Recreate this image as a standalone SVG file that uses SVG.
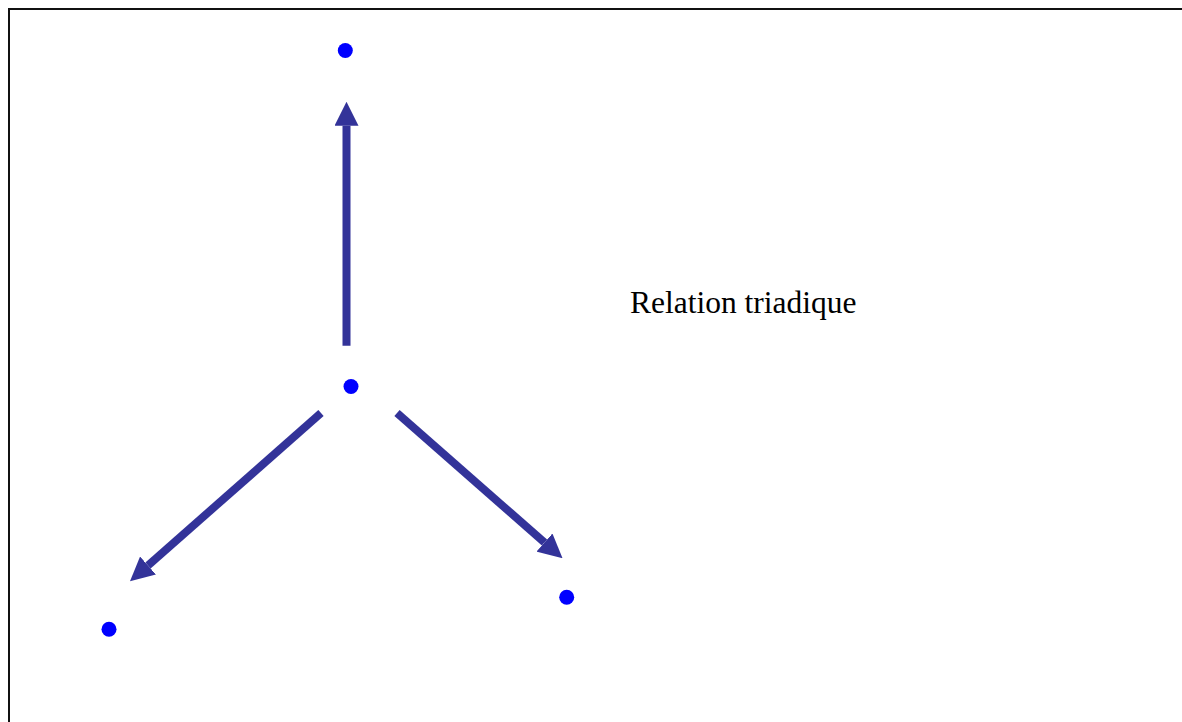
<svg xmlns="http://www.w3.org/2000/svg" width="1182" height="722" viewBox="0 0 1182 722">
<style>
.dot{fill:#0000FF}
.conn{stroke:#333399;stroke-width:8;fill:none;marker-end:url(#ah)}
.lbl{font-family:"Liberation Serif","Times New Roman",serif;font-size:31.5px;fill:#000}
</style>
<defs>
<marker id="ah" markerUnits="userSpaceOnUse" markerWidth="24" markerHeight="24" viewBox="0 0 24 24" refX="0" refY="12" orient="auto">
<path d="M0,0 L24,12 L0,24 z" fill="#333399"/>
</marker>
</defs>
<rect x="0" y="0" width="1182" height="722" fill="#fff"/>
<rect x="9" y="9" width="1200" height="800" fill="none" stroke="#111" stroke-width="2"/>
<g id="connectors">
<line class="conn" x1="346.5" y1="345.7" x2="346.5" y2="125.7"/>
<line class="conn" x1="321" y1="413" x2="148" y2="565.5"/>
<line class="conn" x1="397" y1="413" x2="544.5" y2="542.5"/>
</g>
<g id="node-top"><circle class="dot" cx="345.3" cy="50.5" r="7.5"/></g>
<g id="node-center"><circle class="dot" cx="351" cy="386.5" r="7.5"/></g>
<g id="node-left"><circle class="dot" cx="109" cy="629.3" r="7.5"/></g>
<g id="node-right"><circle class="dot" cx="566.7" cy="597.3" r="7.5"/></g>
<g id="label"><text class="lbl" x="630" y="313">Relation triadique</text></g>
</svg>
